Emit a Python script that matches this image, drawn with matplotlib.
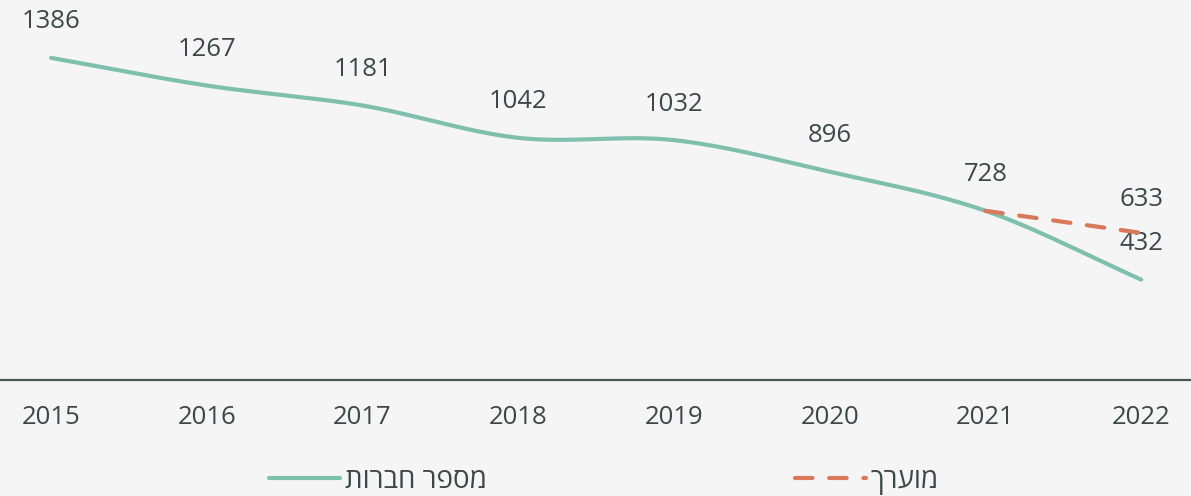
import numpy as np
import matplotlib
matplotlib.use("Agg")
import matplotlib.pyplot as plt
from matplotlib.lines import Line2D

# ---- data ----
years = [2015, 2016, 2017, 2018, 2019, 2020, 2021, 2022]
companies = [1386, 1267, 1181, 1042, 1032, 896, 728, 432]
est_years = [2021, 2022]
est_values = [728, 633]
series_name = "מספר חברות"
est_name = "מוערך"

TEAL = "#7fbfae"
ORANGE = "#d9785a"
TEXT = "#3b4749"
BG = "#f5f5f5"
FONT = ["Open Sans", "DejaVu Sans"]
FS = 18.5

def rtl(s):
    return s[::-1]

def smooth(x, y, n=60):
    x = np.asarray(x, float); y = np.asarray(y, float)
    m = np.zeros_like(y)
    m[1:-1] = (y[2:] - y[:-2]) / (x[2:] - x[:-2])
    m[0] = (y[1] - y[0]) / (x[1] - x[0])
    m[-1] = (y[-1] - y[-2]) / (x[-1] - x[-2])
    xs, ys = [], []
    for i in range(len(x) - 1):
        h = x[i + 1] - x[i]
        t = np.linspace(0, 1, n, endpoint=(i == len(x) - 2))
        h00 = 2 * t**3 - 3 * t**2 + 1
        h10 = t**3 - 2 * t**2 + t
        h01 = -2 * t**3 + 3 * t**2
        h11 = t**3 - t**2
        xs.append(x[i] + t * h)
        ys.append(h00 * y[i] + h10 * h * m[i] + h01 * y[i + 1] + h11 * h * m[i + 1])
    return np.concatenate(xs), np.concatenate(ys)

fig = plt.figure(figsize=(11.91, 4.96), dpi=100, facecolor=BG)
ax = fig.add_axes([0, 1 - 380 / 496, 1, 380 / 496])
ax.set_facecolor(BG)

sx, sy = smooth(years, companies)
ax.plot(sx, sy, color=TEAL, lw=3.0, solid_capstyle="round", zorder=3)
ax.plot(est_years, est_values, color=ORANGE, lw=3.0, dashes=(4.2, 4.0),
        dash_capstyle="round", zorder=4)

for x, v in zip(years, companies):
    ax.annotate(str(v), (x, v), xytext=(0, 26), textcoords="offset points",
                ha="center", va="center", fontsize=FS, color=TEXT, family=FONT)
ax.annotate(str(est_values[-1]), (est_years[-1], est_values[-1]), xytext=(0, 24),
            textcoords="offset points", ha="center", va="center",
            fontsize=FS, color=TEXT, family=FONT)

ax.set_xlim(2014.672, 2022.32)
ax.set_ylim(0, 1635)
ax.set_xticks(years)
ax.set_xticklabels([str(y) for y in years], fontsize=FS, color=TEXT, family=FONT)
ax.set_yticks([])
ax.tick_params(axis="x", length=0, pad=18)
for s in ["top", "right", "left"]:
    ax.spines[s].set_visible(False)
ax.spines["bottom"].set_color("#4b5759")
ax.spines["bottom"].set_linewidth(1.6)

handles = [Line2D([], [], color=TEAL, lw=3.0, solid_capstyle="round"),
           Line2D([], [], color=ORANGE, lw=3.0, dashes=(4.2, 4.0), dash_capstyle="round")]
leg = fig.legend(handles, [rtl(series_name), rtl(est_name)], ncol=2,
                 loc="center", bbox_to_anchor=(604 / 1191, 1 - 481 / 496),
                 frameon=False, handlelength=2.55, handletextpad=0.18,
                 columnspacing=11.1, prop={"family": FONT, "size": 20})
for t in leg.get_texts():
    t.set_color(TEXT)

fig.savefig("out.png", dpi=100, facecolor=BG)
